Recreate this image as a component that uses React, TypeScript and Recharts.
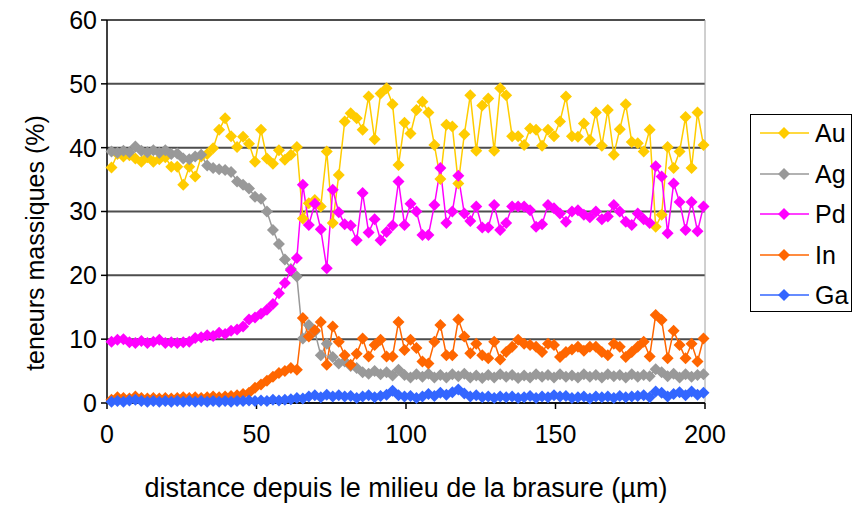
import React from "react";
import {
  LineChart,
  Line,
  XAxis,
  YAxis,
  CartesianGrid,
  ReferenceLine,
} from "recharts";

/* ---------- data (distance in µm, contents in mass %) ---------- */
const DIST = [
  1.5, 3.5, 5.5, 7.5, 9.5, 11.5, 13.5, 15.5, 17.5, 19.5,
  21.5, 23.5, 25.5, 27.5, 29.5, 31.5, 33.5, 35.5, 37.5, 39.5,
  41.5, 43.5, 45.5, 47.5, 49.5, 51.5, 53.5, 55.5, 57.5, 59.5,
  61.5, 63.5, 65.5, 67.5, 69.5, 71.5, 73.5, 75.5, 77.5, 79.5,
  81.5, 83.5, 85.5, 87.5, 89.5, 91.5, 93.5, 95.5, 97.5, 99.5,
  101.5, 103.5, 105.5, 107.5, 109.5, 111.5, 113.5, 115.5, 117.5, 119.5,
  121.5, 123.5, 125.5, 127.5, 129.5, 131.5, 133.5, 135.5, 137.5, 139.5,
  141.5, 143.5, 145.5, 147.5, 149.5, 151.5, 153.5, 155.5, 157.5, 159.5,
  161.5, 163.5, 165.5, 167.5, 169.5, 171.5, 173.5, 175.5, 177.5, 179.5,
  181.5, 183.5, 185.5, 187.5, 189.5, 191.5, 193.5, 195.5, 197.5, 199.5,
];

const AU = [
  36.9, 39.0, 38.6, 38.8, 38.3, 37.8, 38.5, 37.8, 38.2, 38.5,
  37.0, 37.0, 34.2, 37.0, 35.5, 38.6, 39.0, 39.9, 42.8, 44.6,
  41.8, 40.1, 41.7, 40.6, 37.8, 42.8, 38.3, 37.5, 39.6, 38.1,
  38.9, 40.1, 28.9, 31.3, 31.8, 30.8, 39.4, 28.2, 35.7, 44.1,
  45.4, 44.6, 42.8, 48.0, 41.3, 48.5, 49.3, 46.8, 37.3, 43.9,
  42.2, 45.9, 47.2, 45.5, 40.4, 35.1, 43.6, 43.3, 34.4, 42.1,
  48.2, 39.5, 46.6, 47.7, 39.5, 49.3, 48.2, 41.8, 41.8, 40.4,
  43.0, 42.8, 40.3, 42.8, 41.8, 44.1, 48.0, 41.8, 41.7, 43.8,
  41.2, 45.5, 40.3, 45.9, 38.9, 42.9, 46.8, 40.9, 40.7, 39.4,
  42.8, 27.6, 29.5, 40.1, 36.8, 39.4, 44.8, 36.8, 45.5, 40.4,
];

const AG = [
  39.4, 39.2, 39.5, 39.3, 40.2, 39.5, 39.3, 39.6, 39.2, 39.6,
  39.0, 39.1, 38.3, 38.2, 38.6, 38.9, 37.2, 36.8, 36.6, 36.5,
  36.2, 34.7, 34.2, 33.6, 32.3, 32.0, 30.0, 27.1, 24.9, 22.5,
  21.0, 19.8, 10.1, 12.2, 11.2, 7.5, 9.3, 7.2, 6.2, 6.5,
  5.8, 5.5, 4.8, 4.6, 5.0, 4.5, 4.8, 4.3, 5.2, 4.4,
  4.0, 4.5, 4.1, 4.6, 4.0, 4.4, 4.0, 4.5, 4.2, 4.6,
  4.0, 4.3, 3.9, 4.4, 4.0, 4.5, 4.1, 4.4, 3.9, 4.3,
  4.0, 4.5, 4.1, 4.4, 4.0, 4.5, 4.1, 4.3, 4.0, 4.5,
  4.1, 4.4, 4.0, 4.5, 4.2, 4.4, 4.0, 4.5, 4.1, 4.4,
  4.2, 5.3, 4.8, 4.2, 4.6, 4.0, 4.5, 4.1, 4.4, 4.5,
];

const PD = [
  9.6, 9.9, 10.0, 9.5, 9.4, 9.7, 9.4, 9.6, 9.9, 9.4,
  9.5, 9.4, 9.5, 9.6, 10.2, 10.3, 10.6, 10.5, 11.0, 10.8,
  11.3, 11.5, 12.0, 13.1, 13.4, 14.0, 14.6, 15.5, 17.2, 18.8,
  20.8, 22.7, 34.2, 27.9, 31.2, 27.2, 21.1, 33.4, 29.9, 28.0,
  27.8, 25.5, 32.9, 26.7, 28.8, 25.5, 26.8, 27.8, 34.7, 27.9,
  31.2, 30.0, 26.3, 26.3, 31.0, 36.8, 28.2, 30.0, 35.6, 29.7,
  28.5, 30.8, 27.5, 27.5, 31.0, 27.1, 28.2, 30.8, 30.8, 30.8,
  30.2, 27.6, 28.0, 31.0, 30.5, 29.7, 28.4, 30.0, 30.2, 29.5,
  29.1, 30.0, 28.8, 29.2, 31.0, 30.0, 28.4, 27.9, 29.7, 28.8,
  28.2, 37.1, 35.5, 26.6, 34.4, 31.5, 27.1, 31.5, 26.9, 30.8,
];

const IN = [
  0.5, 0.9, 0.8, 0.7, 1.0, 0.8, 0.7, 0.8, 0.7, 0.8,
  0.7, 0.8, 0.9, 0.8, 0.9, 0.8, 0.9, 1.0, 0.9, 1.0,
  1.1, 1.2, 1.4, 1.6, 2.4, 2.9, 3.5, 4.1, 4.7, 5.0,
  5.5, 5.2, 13.3, 10.4, 11.4, 12.7, 6.0, 12.0, 9.6, 7.5,
  6.0, 7.7, 10.1, 7.3, 9.1, 9.9, 7.3, 7.3, 12.7, 8.3,
  9.9, 8.6, 6.5, 6.2, 9.6, 12.2, 7.5, 7.5, 13.1, 10.4,
  7.8, 9.3, 7.5, 7.0, 9.6, 6.8, 8.0, 8.8, 9.9, 9.3,
  9.1, 8.8, 8.0, 9.3, 9.1, 7.2, 8.0, 8.4, 8.8, 8.2,
  8.8, 8.8, 8.0, 7.5, 9.3, 8.8, 7.2, 8.0, 8.8, 9.6,
  7.3, 13.8, 13.0, 7.0, 11.3, 9.1, 7.0, 9.3, 6.5, 10.1,
];

const GA = [
  0.2, 0.3, 0.2, 0.4, 0.5, 0.3, 0.2, 0.3, 0.2, 0.3,
  0.2, 0.3, 0.2, 0.3, 0.2, 0.3, 0.2, 0.3, 0.2, 0.3,
  0.2, 0.3, 0.3, 0.4, 0.3, 0.4, 0.3, 0.5, 0.4, 0.5,
  0.6, 0.8, 0.7, 1.0, 1.2, 0.9, 1.3, 1.0, 1.2, 1.0,
  1.1, 0.8, 1.0, 1.2, 0.9, 1.1, 1.3, 1.9, 1.2, 1.0,
  1.1, 0.8, 1.0, 1.4, 1.1, 1.6, 1.3, 1.7, 2.1, 1.5,
  1.0, 1.2, 0.9, 1.0, 0.8, 1.0, 0.9, 1.0, 0.8, 0.9,
  1.1, 0.8, 1.0, 0.9, 1.2, 1.0, 1.1, 0.8, 0.9, 1.0,
  0.7, 1.0, 0.9, 1.0, 0.8, 1.1, 0.9, 1.0, 1.1, 1.2,
  0.9, 1.8, 1.6, 1.0, 1.4, 1.7, 1.2, 1.8, 1.3, 1.6,
];

const X_TICKS = [0, 50, 100, 150, 200];
const Y_TICKS = [0, 10, 20, 30, 40, 50, 60];

const SERIES = [
  { key: "Au", values: AU, color: "#FFCC00" },
  { key: "Ag", values: AG, color: "#999999" },
  { key: "Pd", values: PD, color: "#FF00FF" },
  { key: "In", values: IN, color: "#FF6600" },
  { key: "Ga", values: GA, color: "#3366FF" },
];

const FONT = "'Liberation Sans', Arial, sans-serif";

const rows = DIST.map((d, i) => {
  const row: Record<string, number> = { d };
  SERIES.forEach((s) => (row[s.key] = s.values[i]));
  return row;
});

function diamondDot(color: string, r = 6) {
  return (props: any) => {
    const { cx, cy, index } = props;
    if (cx == null || cy == null) return <g key={index} />;
    return (
      <polygon
        key={index}
        points={`${cx},${cy - r} ${cx + r},${cy} ${cx},${cy + r} ${cx - r},${cy}`}
        fill={color}
        stroke="none"
      />
    );
  };
}

function YTitle() {
  return (
    <text
      x={35}
      y={243}
      transform="rotate(-90 35 243)"
      textAnchor="middle"
      dominantBaseline="central"
      fill="#000"
      fontSize={25}
      fontFamily={FONT}
    >
      teneurs massiques (%)
    </text>
  );
}

function LegendBox() {
  return (
    <div
      style={{
        position: "absolute",
        left: 750,
        top: 114,
        width: 102,
        height: 198,
        border: "1px solid #000",
        background: "#fff",
        fontFamily: FONT,
        fontSize: 25,
        boxSizing: "border-box",
      }}
    >
      {SERIES.map((s, i) => (
        <div
          key={s.key}
          style={{
            position: "absolute",
            left: 0,
            top: 18 + i * 40.5 - 15,
            height: 30,
            display: "flex",
            alignItems: "center",
          }}
        >
          <svg width={60} height={30} style={{ display: "block" }}>
            <line x1={9} y1={15} x2={58} y2={15} stroke={s.color} strokeWidth={1.5} />
            <polygon points="33,9 39,15 33,21 27,15" fill={s.color} />
          </svg>
          <span style={{ marginLeft: 4, color: "#000", lineHeight: "30px" }}>{s.key}</span>
        </div>
      ))}
    </div>
  );
}

export default function App() {
  return (
    <div
      style={{
        position: "absolute",
        left: 0,
        top: 0,
        width: 856,
        height: 505,
        background: "#fff",
      }}
    >
      <LineChart
        width={856}
        height={505}
        data={rows}
        margin={{ top: 20, right: 151, bottom: 0, left: 0 }}
        style={{ fontFamily: FONT }}
      >
        <CartesianGrid
          horizontal
          vertical={false}
          stroke="#4d4d4d"
          strokeWidth={2}
        />
        <ReferenceLine x={200} stroke="#a0a0a0" strokeWidth={1} />
        <XAxis
          dataKey="d"
          type="number"
          domain={[0, 200]}
          ticks={X_TICKS}
          height={102}
          axisLine={{ stroke: "#000", strokeWidth: 1.5 }}
          tickLine={{ stroke: "#000", strokeWidth: 1.5 }}
          tickSize={6}
          tickMargin={16}
          tick={{ fill: "#000", fontSize: 25 }}
          label={{
            value: "distance depuis le milieu de la brasure (µm)",
            position: "insideBottom",
            offset: 8,
            fill: "#000",
            fontSize: 27,
          }}
        />
        <YAxis
          type="number"
          domain={[0, 60]}
          ticks={Y_TICKS}
          width={107}
          axisLine={{ stroke: "#000", strokeWidth: 1.5 }}
          tickLine={{ stroke: "#000", strokeWidth: 1.5 }}
          tickSize={6}
          tickMargin={4}
          tick={{ fill: "#000", fontSize: 25 }}
          label={{ content: () => <YTitle /> }}
        />
        {SERIES.map((s) => (
          <Line
            key={s.key}
            dataKey={s.key}
            stroke={s.color}
            strokeWidth={1.5}
            dot={diamondDot(s.color)}
            activeDot={false}
            isAnimationActive={false}
          />
        ))}
      </LineChart>
      <LegendBox />
    </div>
  );
}
